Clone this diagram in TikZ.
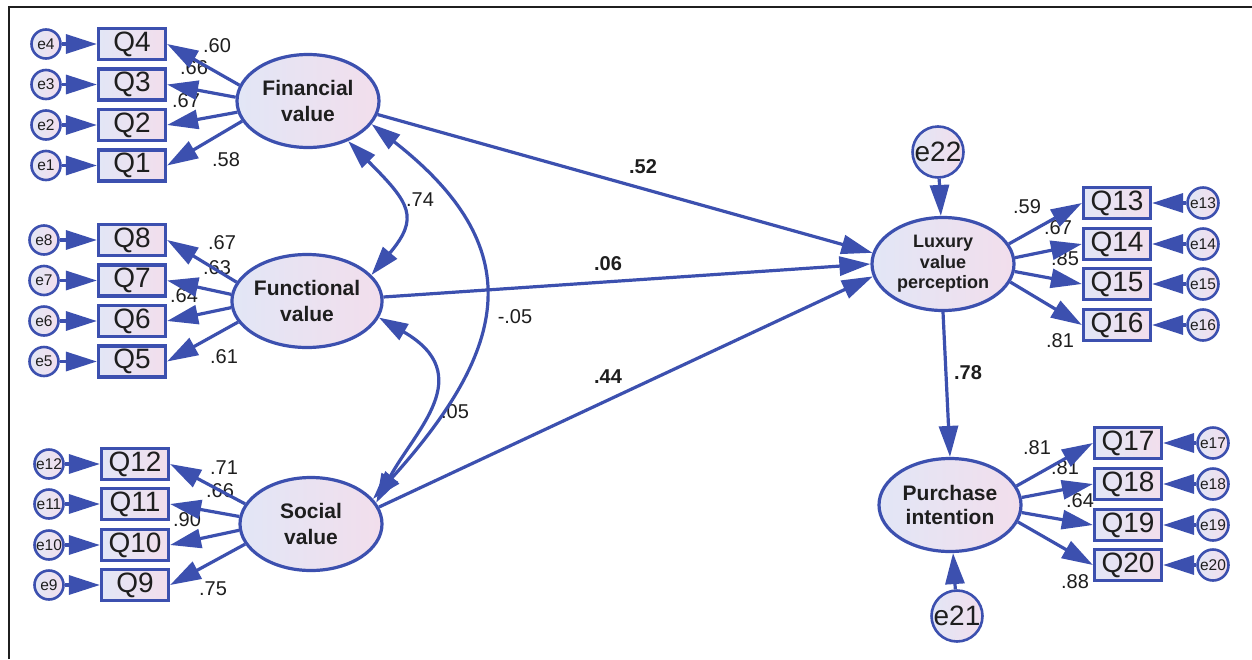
\documentclass[tikz,border=0pt]{standalone}
\usepackage{fontspec}
\setmainfont{Liberation Sans}
\usetikzlibrary{shapes.geometric,arrows.meta}
\definecolor{amos}{RGB}{60,80,175}
\definecolor{fillL}{RGB}{226,230,246}
\definecolor{fillR}{RGB}{242,222,236}
\definecolor{txt}{RGB}{30,30,30}
\tikzset{
  ln/.style={draw=amos, line width=3.2pt},
  arr/.style={ln, -{Triangle[length=31pt,width=19pt]}},
  darr/.style={ln, {Triangle[length=29pt,width=18pt]}-{Triangle[length=29pt,width=18pt]}},
  shadefill/.style={left color=fillL, right color=fillR},
  obs/.style={rectangle, draw=amos, line width=3.2pt, shadefill, minimum width=67pt, minimum height=31pt, inner sep=0pt, text=txt, font=\fontsize{28}{28}\selectfont},
  err/.style={circle, draw=amos, line width=2.6pt, shadefill, minimum size=29pt, inner sep=0pt, text=txt, font=\fontsize{15.5}{15.5}\selectfont},
  bigerr/.style={err, minimum size=51pt, font=\fontsize{28}{28}\selectfont},
  lat/.style={ellipse, draw=amos, line width=3.2pt, shadefill, minimum width=142pt, minimum height=93pt, inner sep=0pt, align=center, text=txt, font=\bfseries\fontsize{21}{26}\selectfont},
  lbl/.style={inner sep=0pt, text=txt, font=\fontsize{20}{20}\selectfont},
  blbl/.style={inner sep=0pt, text=txt, font=\bfseries\fontsize{20}{20}\selectfont},
}
\begin{document}
\begin{tikzpicture}[x=1pt,y=-1pt]
\useasboundingbox (0,0) rectangle (1252,659);
\fill[white] (0,0) rectangle (1252,659);
% frame
\draw[line width=2.5pt, black!88] (9,659) -- (9,7) -- (1252,7);

% Financial group
\node[lat] (fin) at (308,101) {Financial\\value};
\node[obs] (q4) at (132,44) {Q4};
\node[obs] (q3) at (132,84.5) {Q3};
\node[obs] (q2) at (132,125) {Q2};
\node[obs] (q1) at (132,165.5) {Q1};
\node[err] (e4) at (46,44) {e4};
\node[err] (e3) at (46,84.5) {e3};
\node[err] (e2) at (46,125) {e2};
\node[err] (e1) at (46,165.5) {e1};

% Functional group
\node[lat] (fun) at (307,301) {Functional\\value};
\node[obs] (q8) at (132,240) {Q8};
\node[obs] (q7) at (132,280.5) {Q7};
\node[obs] (q6) at (132,321) {Q6};
\node[obs] (q5) at (132,361.5) {Q5};
\node[err] (e8) at (44,240) {e8};
\node[err] (e7) at (44,280.5) {e7};
\node[err] (e6) at (44,321) {e6};
\node[err] (e5) at (44,361.5) {e5};

% Social group
\node[lat] (soc) at (311,524) {Social\\value};
\node[obs] (q12) at (135,464) {Q12};
\node[obs] (q11) at (135,504) {Q11};
\node[obs] (q10) at (135,545) {Q10};
\node[obs] (q9) at (135,585) {Q9};
\node[err] (e12) at (49,464) {e12};
\node[err] (e11) at (49,504) {e11};
\node[err] (e10) at (49,545) {e10};
\node[err] (e9) at (49,585) {e9};

% Luxury group
\node[lat, font=\bfseries\fontsize{18}{20.5}\selectfont] (lux) at (943,264) {Luxury\\value\\perception};
\node[bigerr] (e22) at (938,152) {e22};
\node[obs] (q13) at (1117,203) {Q13};
\node[obs] (q14) at (1117,244) {Q14};
\node[obs] (q15) at (1117,284) {Q15};
\node[obs] (q16) at (1117,325) {Q16};
\node[err, minimum size=31pt] (e13) at (1203,203) {e13};
\node[err, minimum size=31pt] (e14) at (1203,244) {e14};
\node[err, minimum size=31pt] (e15) at (1203,284) {e15};
\node[err, minimum size=31pt] (e16) at (1203,325) {e16};

% Purchase group
\node[lat, font=\bfseries\fontsize{21}{24}\selectfont] (pur) at (950,505) {Purchase\\intention};
\node[bigerr] (e21) at (957,616) {e21};
\node[obs] (q17) at (1128,443) {Q17};
\node[obs] (q18) at (1128,484) {Q18};
\node[obs] (q19) at (1128,525) {Q19};
\node[obs] (q20) at (1128,565) {Q20};
\node[err, minimum size=31pt] (e17) at (1213,443) {e17};
\node[err, minimum size=31pt] (e18) at (1213,484) {e18};
\node[err, minimum size=31pt] (e19) at (1213,525) {e19};
\node[err, minimum size=31pt] (e20) at (1213,565) {e20};

% loading labels
\node[lbl] (l4) at (217,46) {.60};
\node[lbl] (l3) at (194,68) {.66};
\node[lbl] (l2) at (186,101) {.67};
\node[lbl] (l1) at (226,160) {.58};
\node[lbl] (l8) at (222,243) {.67};
\node[lbl] (l7) at (217,268) {.63};
\node[lbl] (l6) at (184,296) {.64};
\node[lbl] (l5) at (224,357) {.61};
\node[lbl] (l12) at (224,468) {.71};
\node[lbl] (l11) at (220,491) {.66};
\node[lbl] (l10) at (187,520) {.90};
\node[lbl] (l9) at (213,589) {.75};
\node[lbl] (l13) at (1027,207) {.59};
\node[lbl] (l14) at (1058,228) {.67};
\node[lbl] (l15) at (1065,259) {.85};
\node[lbl] (l16) at (1060,341) {.81};
\node[lbl] (l17) at (1037,448) {.81};
\node[lbl] (l18) at (1065,468) {.81};
\node[lbl] (l19) at (1080,501) {.64};
\node[lbl] (l20) at (1075,582) {.88};
% path and covariance labels
\node[blbl] (p1) at (643,167) {.52};
\node[blbl] (p2) at (608,264) {.06};
\node[blbl] (p3) at (608,377) {.44};
\node[blbl] (p4) at (968,373) {.78};
\node[lbl] (c1) at (420,200) {.74};
\node[lbl] (c2) at (455,412) {.05};
\node[lbl] (c3) at (515,317) {-.05};

% error arrows
\foreach \i in {1,...,20} {\draw[arr] (e\i) -- (q\i);}
\draw[arr] (e22) -- (lux);
\draw[arr] (e21) -- (pur);

% loadings
\draw[arr] (fin.167) -- (q4.east);
\draw[arr] (fin.177) -- (q3.east);
\draw[arr] (fin.189) -- (q2.east);
\draw[arr] (fin.197) -- (q1.east);
\draw[arr] (fun.165) -- (q8.east);
\draw[arr] (fun.175) -- (q7.east);
\draw[arr] (fun.185) -- (q6.east);
\draw[arr] (fun.197) -- (q5.east);
\draw[arr] (soc.163) -- (q12.east);
\draw[arr] (soc.174) -- (q11.east);
\draw[arr] (soc.185) -- (q10.east);
\draw[arr] (soc.197) -- (q9.east);
\draw[arr] (lux.17) -- (q13.west);
\draw[arr] (lux.5) -- (q14.west);
\draw[arr] (lux.-6) -- (q15.west);
\draw[arr] (lux.-15) -- (q16.west);
\draw[arr] (pur.16) -- (q17.west);
\draw[arr] (pur.6) -- (q18.west);
\draw[arr] (pur.-6) -- (q19.west);
\draw[arr] (pur.-14) -- (q20.west);

% structural paths
\draw[arr] (fin.-11) -- (lux.171);
\draw[arr] (fun.3) -- (lux.180);
\draw[arr] (soc.14) -- (lux.190);
\draw[arr] (lux.south) -- (pur.north);

% covariances
\draw[darr] (fin.-45) .. controls +(-45:88pt) and +(50:75pt) .. (fun.22);
\draw[darr] (fun.-13) .. controls +(-30:115pt) and +(62:82pt) .. (soc.18);
\draw[darr] (fin.-20) .. controls +(-38:200pt) and +(48:205pt) .. (soc.22);
\end{tikzpicture}
\end{document}
